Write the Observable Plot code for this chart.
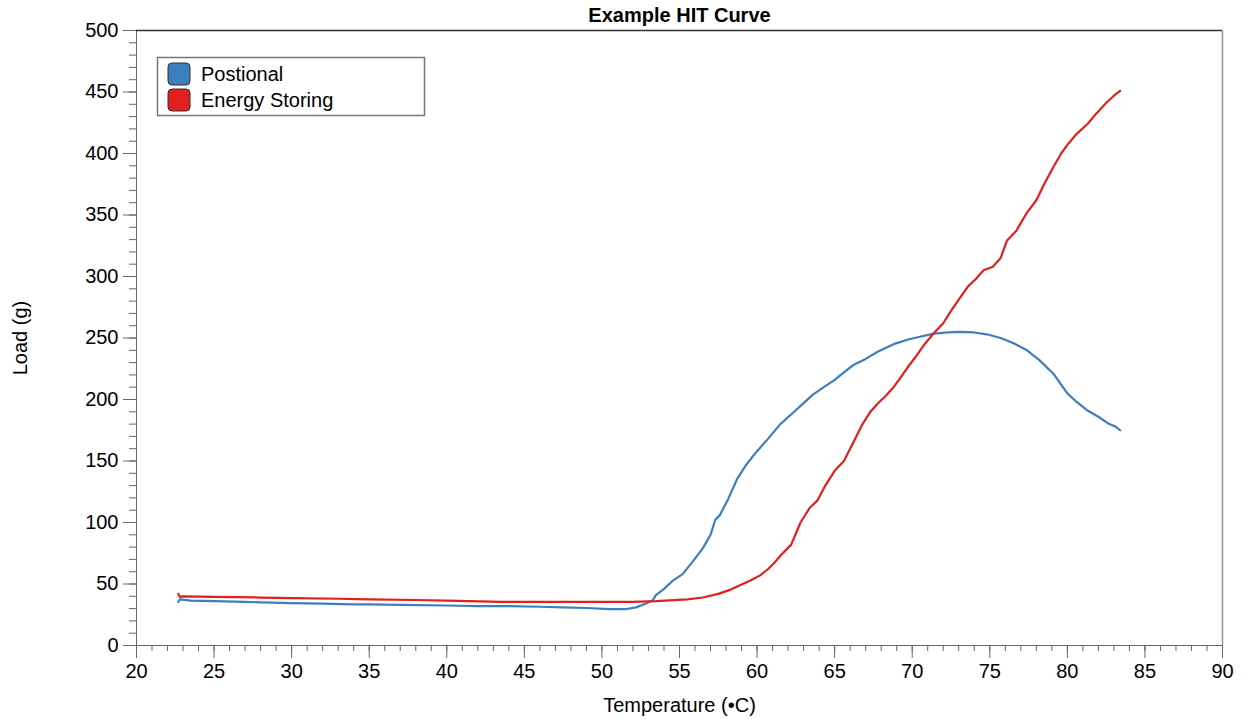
<!DOCTYPE html>
<html>
<head>
<meta charset="utf-8">
<script src="https://cdn.jsdelivr.net/npm/d3@7"></script>
<script src="https://cdn.jsdelivr.net/npm/@observablehq/plot@0.6"></script>
<style>
  body { margin: 0; background: white; }
</style>
</head>
<body>
<div id="chart"></div>
<script>
// Series names and colours
const seriesNames = ["Postional", "Energy Storing"];
const seriesColors = ["#3b7fbf", "#e31e1e"];

// Postional (blue) – temperature (°C) and load (g)
const posTemp = [22.7, 22.8, 23.5, 25, 27, 28, 30, 32, 34, 35, 37, 40, 42, 44, 46, 47.5, 49, 50.5, 51.5, 52.2, 52.8, 53.3, 53.45, 54, 54.6, 55.2, 55.9, 56.5, 57, 57.3, 57.6, 58.1, 58.7, 59.3, 60, 60.7, 61.5, 62.3, 63, 63.6, 64.3, 65, 65.6, 66.2, 67, 67.8, 68.8, 69.8, 70.5, 71.4, 72.3, 73.1, 74, 74.8, 75.7, 76.5, 77.4, 78.2, 79.1, 79.6, 80, 80.6, 81.3, 82, 82.7, 83.1, 83.4];
const posLoad = [35.5, 37.5, 36.5, 36, 35.5, 35, 34.5, 34, 33.5, 33.5, 33, 32.5, 32, 32, 31.5, 31, 30.5, 29.5, 29.5, 31, 34, 37, 40.5, 46, 53, 58, 69, 79, 90, 102, 106, 118, 135, 147, 158, 168, 180, 189, 197, 204, 210, 216, 222, 228, 233, 239, 245, 249, 251, 253.5, 254.5, 255, 254.5, 253, 250, 246, 240, 232, 221, 212, 205, 198, 191, 186, 180, 178, 175];

// Energy Storing (red) – temperature (°C) and load (g)
const engTemp = [22.7, 22.8, 23, 25, 28, 30, 33, 35, 38, 40, 43.5, 46, 50, 52, 53.5, 55.5, 56.5, 57.5, 58.2, 58.9, 59.6, 60.2, 60.7, 61.1, 61.5, 62.2, 62.8, 63.4, 63.9, 64.4, 65, 65.6, 66.2, 66.8, 67.3, 67.8, 68.3, 68.8, 69.2, 69.7, 70.3, 70.8, 71.4, 72, 72.5, 73.1, 73.6, 74.1, 74.6, 75.2, 75.7, 76.1, 76.7, 77.4, 78, 78.5, 79.1, 79.6, 80, 80.6, 81.3, 81.9, 82.5, 83, 83.4];
const engLoad = [42, 39.5, 40, 39.5, 39, 38.5, 38, 37.5, 37, 36.5, 35.5, 35.5, 35.5, 35.5, 36, 37.5, 39, 42, 45, 49, 53, 57, 62, 67, 73, 82, 100, 112, 118, 130, 142, 150, 165, 180, 190, 197, 203, 210, 217, 226, 236, 245, 254, 262, 272, 283, 292, 298, 305, 308, 315, 329, 337, 352, 362, 375, 389, 400, 407, 416, 424, 433, 441, 447, 451];

// Axis ticks
const xMajor = d3.range(20, 91, 5);
const xMinor = d3.range(20, 91, 1);
const yMajor = d3.range(0, 501, 50);
const yMinor = d3.range(0, 501, 10);

const chartTitle = "Example HIT Curve";
const xTitle = "Temperature (\u2022C)";
const yTitle = "Load (g)";

const pos = posTemp.map((t, i) => ({temp: t, load: posLoad[i], series: seriesNames[0]}));
const eng = engTemp.map((t, i) => ({temp: t, load: engLoad[i], series: seriesNames[1]}));

const font = "'Liberation Sans', Arial, Helvetica, sans-serif";

const svg = Plot.plot({
  width: 1245,
  height: 719,
  marginLeft: 136,
  marginRight: 23,
  marginTop: 30,
  marginBottom: 74,
  style: {fontFamily: font, background: "white", color: "black"},
  x: {domain: [20, 90]},
  y: {domain: [0, 500]},
  color: {domain: seriesNames, range: seriesColors},
  marks: [
    Plot.axisX({ticks: xMinor, tickSize: 6, text: null, label: null, stroke: "#666"}),
    Plot.axisX({ticks: xMajor, tickSize: 13, tickPadding: 5, fontSize: 20, stroke: "#666", fill: "black",
      label: xTitle, labelAnchor: "center", labelArrow: "none", labelOffset: 66}),
    Plot.axisY({ticks: yMinor, tickSize: 7, text: null, label: null, stroke: "#666"}),
    Plot.axisY({ticks: yMajor, tickSize: 13, tickPadding: 5, fontSize: 20, stroke: "#666", fill: "black",
      label: yTitle, labelAnchor: "center", labelArrow: "none", labelOffset: 124}),
    Plot.ruleX([20], {stroke: "#666"}),
    Plot.ruleY([0], {stroke: "#666"}),
    Plot.ruleY([500], {stroke: "#333", strokeWidth: 1.5}),
    Plot.ruleX([90], {stroke: "#999", strokeWidth: 1.5}),
    Plot.line(pos, {x: "temp", y: "load", stroke: "series", strokeWidth: 2.2}),
    Plot.line(eng, {x: "temp", y: "load", stroke: "series", strokeWidth: 2.2}),
    Plot.text([chartTitle], {frameAnchor: "top", lineAnchor: "middle", dy: -15, fontSize: 20, fontWeight: "bold", fill: "black"})
  ]
});

// Legend inside the plot (top-left)
const lg = d3.select(svg).append("g").attr("font-family", font).attr("text-anchor", "start");
lg.append("rect").attr("x", 157.5).attr("y", 57.5).attr("width", 267).attr("height", 58)
  .attr("fill", "white").attr("stroke", "#777").attr("stroke-width", 1.5);
seriesNames.forEach((name, i) => {
  const y0 = 63 + i * 26;
  lg.append("rect").attr("x", 168).attr("y", y0).attr("width", 22).attr("height", 22)
    .attr("rx", 4).attr("fill", seriesColors[i]).attr("stroke", "#333").attr("stroke-width", 1);
  lg.append("text").attr("x", 201).attr("y", y0 + 11).attr("dy", "0.35em")
    .attr("font-size", 20).attr("fill", "black").text(name);
});

document.getElementById("chart").appendChild(svg);
</script>
</body>
</html>
